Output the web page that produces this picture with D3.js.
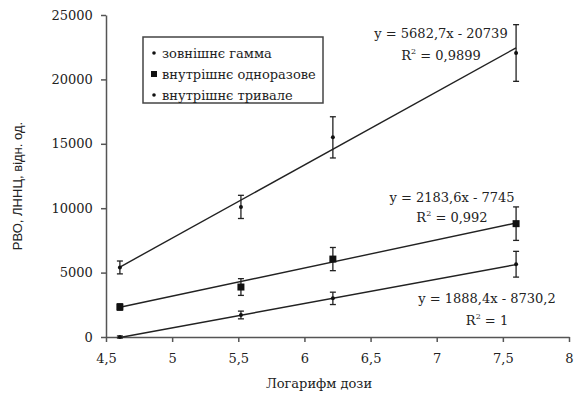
<!DOCTYPE html>
<html><head><meta charset="utf-8">
<script src="https://cdn.jsdelivr.net/npm/d3@7"></script>
<style>body{margin:0;background:#fff}svg{display:block}</style>
</head><body><svg id="c" width="576" height="400"></svg>
<script>
const xValues = [4.605, 5.52, 6.215, 7.6];
const seriesNames = ["зовнішнє гамма", "внутрішнє одноразове", "внутрішнє тривале"];
const gammaValues = [5400, 10100, 15500, 22050];
const gammaErrors = [500, 900, 1600, 2200];
const singleValues = [2330, 3880, 6050, 8800];
const singleErrors = [250, 650, 900, 1300];
const longValues = [0, 1710, 3000, 5650];
const longErrors = [80, 300, 480, 1000];
const slopes = [5682.7, 2183.6, 1888.4];
const intercepts = [-20739, -7745, -8730.2];
const eqLabels = ["y = 5682,7x - 20739", "y = 2183,6x - 7745", "y = 1888,4x - 8730,2"];
const r2Labels = ["0,9899", "0,992", "1"];
const xTicks = [4.5, 5, 5.5, 6, 6.5, 7, 7.5, 8];
const yTicks = [0, 5000, 10000, 15000, 20000, 25000];

const SERIF = "DejaVu Serif";
const svg = d3.select("#c").attr("font-family", SERIF);
const x = d3.scaleLinear().domain([4.5, 8]).range([106, 569]);
const y = d3.scaleLinear().domain([0, 25000]).range([337, 15]);
const fmt = v => String(v).replace(".", ",");

const xAxis = svg.append("g").attr("transform", "translate(0,337)")
  .call(d3.axisBottom(x).tickValues(xTicks).tickFormat(fmt).tickSize(5).tickSizeOuter(0));
const yAxis = svg.append("g").attr("transform", "translate(106,0)")
  .call(d3.axisLeft(y).tickValues(yTicks).tickFormat(d => d).tickSize(5).tickSizeOuter(0));
[xAxis, yAxis].forEach(a => {
  a.attr("font-family", SERIF).attr("font-size", 13);
  a.selectAll("path,line").attr("stroke", "#555").attr("stroke-width", 1.5);
  a.selectAll("text").attr("fill", "#222");
});
xAxis.selectAll("text").attr("dy", "1.35em");
yAxis.selectAll("text").attr("dx", "-0.4em");

const series = [
  {v: gammaValues, e: gammaErrors, shape: "dot"},
  {v: singleValues, e: singleErrors, shape: "square"},
  {v: longValues, e: longErrors, shape: "dot"}
];
series.forEach((s, i) => {
  const x0 = xValues[0], x1 = xValues[xValues.length - 1];
  svg.append("line")
    .attr("x1", x(x0)).attr("y1", y(slopes[i] * x0 + intercepts[i]))
    .attr("x2", x(x1)).attr("y2", y(slopes[i] * x1 + intercepts[i]))
    .attr("stroke", "#222").attr("stroke-width", 1.4);
  const g = svg.append("g");
  xValues.forEach((xv, j) => {
    const cx = x(xv), yt = y(s.v[j] + s.e[j]), yb = y(s.v[j] - s.e[j]);
    g.append("line").attr("x1", cx).attr("x2", cx).attr("y1", yt).attr("y2", yb).attr("stroke", "#222").attr("stroke-width", 1.3);
    [yt, yb].forEach(yy => g.append("line").attr("x1", cx - 3).attr("x2", cx + 3).attr("y1", yy).attr("y2", yy).attr("stroke", "#222").attr("stroke-width", 1.3));
    if (s.shape === "square") {
      g.append("rect").attr("x", cx - 3.5).attr("y", y(s.v[j]) - 3.5).attr("width", 7).attr("height", 7).attr("fill", "#111");
    } else {
      g.append("circle").attr("cx", cx).attr("cy", y(s.v[j])).attr("r", 2).attr("fill", "#111");
    }
  });
});

// equations
const eqPos = [[441, 38, 441, 60], [452, 202, 452, 222], [487, 303, 487, 325]];
eqLabels.forEach((t, i) => {
  const p = eqPos[i];
  svg.append("text").attr("x", p[0]).attr("y", p[1]).attr("text-anchor", "middle")
    .attr("font-family", SERIF).attr("font-size", 13).attr("fill", "#222").text(t);
  const r = svg.append("text").attr("x", p[2]).attr("y", p[3]).attr("text-anchor", "middle")
    .attr("font-family", SERIF).attr("font-size", 13).attr("fill", "#222");
  r.append("tspan").text("R");
  r.append("tspan").attr("dy", -6).attr("font-size", 8).text("2");
  r.append("tspan").attr("dy", 6).text(" = " + r2Labels[i]);
});

// legend
const lg = svg.append("g");
lg.append("rect").attr("x", 143).attr("y", 37).attr("width", 180).attr("height", 66)
  .attr("fill", "#fff").attr("stroke", "#444").attr("stroke-width", 1.5);
seriesNames.forEach((n, i) => {
  const yy = 53 + i * 21;
  if (i === 1) lg.append("rect").attr("x", 151).attr("y", yy - 3).attr("width", 6).attr("height", 6).attr("fill", "#111");
  else lg.append("circle").attr("cx", 154).attr("cy", yy).attr("r", 1.8).attr("fill", "#111");
  lg.append("text").attr("x", 162).attr("y", yy + 4.5).attr("font-family", SERIF).attr("font-size", 13).attr("fill", "#222").text(n);
});

// axis titles
svg.append("text").attr("x", 319).attr("y", 388).attr("text-anchor", "middle")
  .attr("font-family", SERIF).attr("font-size", 13).attr("fill", "#222").text("Логарифм дози");
svg.append("text").attr("transform", "translate(22,186) rotate(-90)").attr("text-anchor", "middle")
  .attr("font-size", 13).attr("fill", "#222").attr("font-family", "'Liberation Sans',Arial,sans-serif").text("РВО, ЛННЦ, відн. од.");
</script></body></html>
